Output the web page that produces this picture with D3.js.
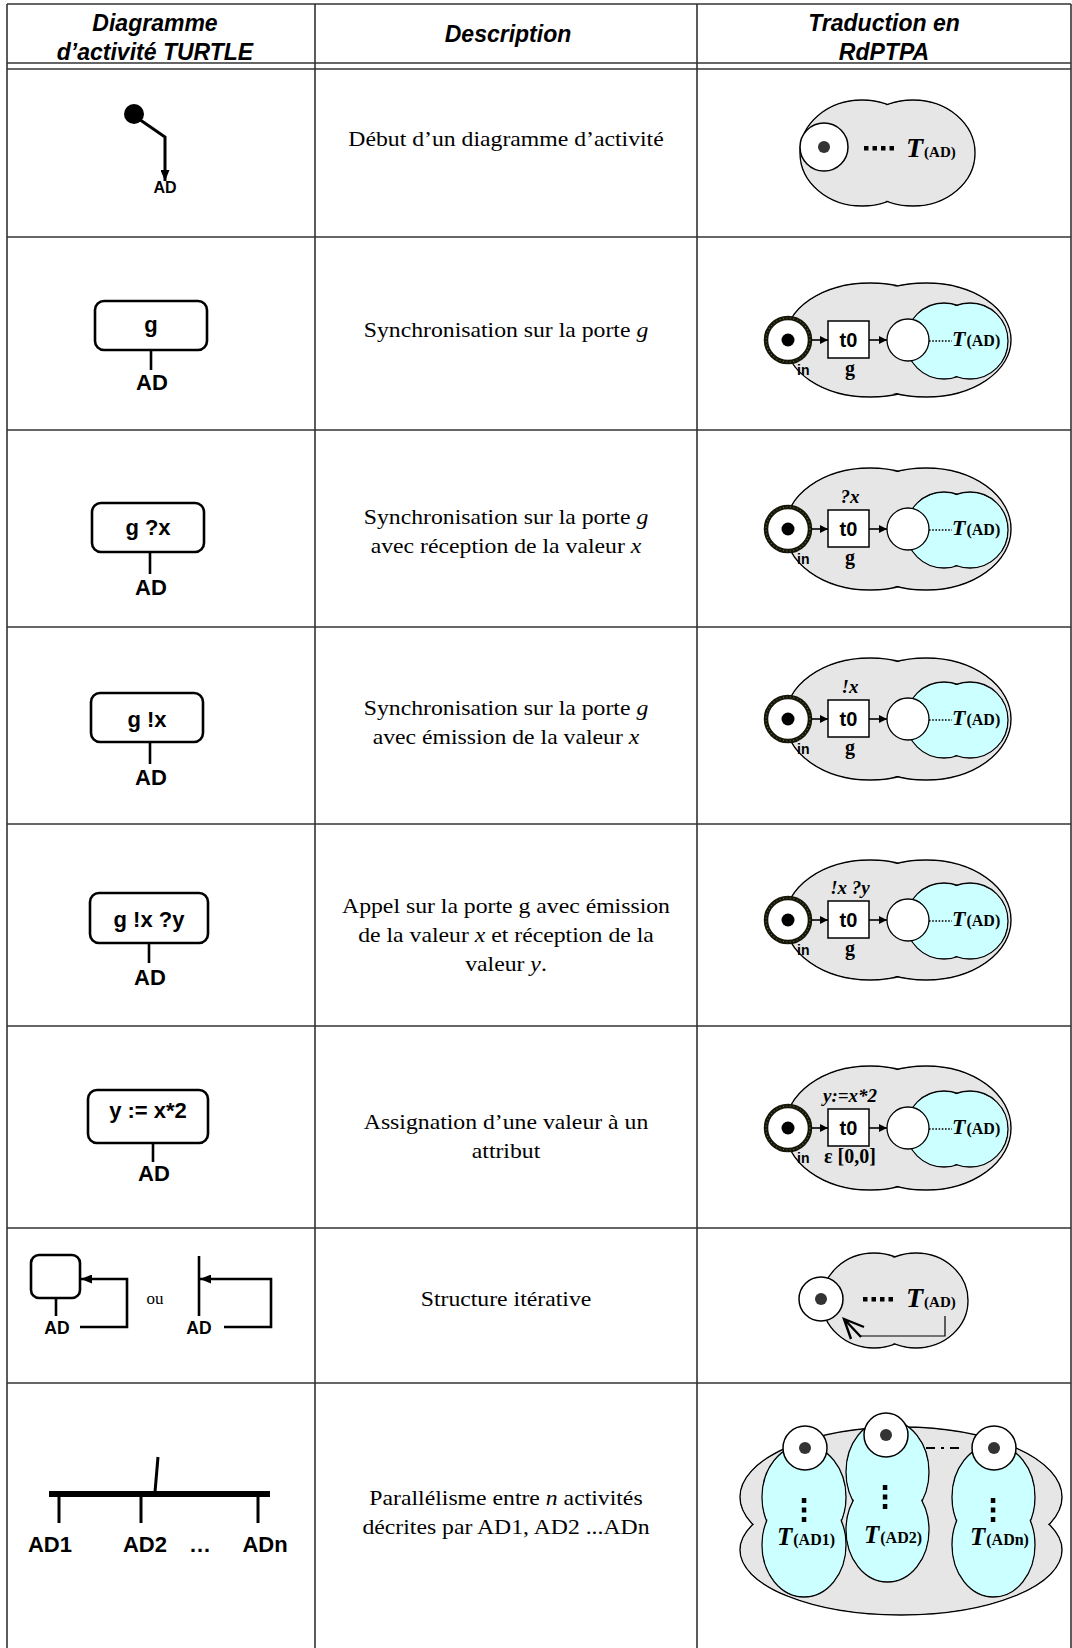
<!DOCTYPE html>
<html><head><meta charset="utf-8">
<script src="https://cdn.jsdelivr.net/npm/d3@7"></script>
<style>body{margin:0;background:#fff}svg{display:block}</style>
</head><body>
<script>
// ---------- data (texts) ----------
const headers = [["Diagramme","d’activité TURTLE"],["Description"],["Traduction en","RdPTPA"]];
const descriptions = [
  ["Début d’un diagramme d’activité"],
  ["Synchronisation sur la porte *g*"],
  ["Synchronisation sur la porte *g*","avec réception de la valeur *x*"],
  ["Synchronisation sur la porte *g*","avec émission de la valeur *x*"],
  ["Appel sur la porte g avec émission","de la valeur *x* et réception de la","valeur *y*."],
  ["Assignation d’une valeur à un","attribut"],
  ["Structure itérative"],
  ["Parallélisme entre *n* activités","décrites par AD1, AD2 ...ADn"]
];
const boxLabels = ["g","g ?x","g !x","g !x ?y","y := x*2"];
const offerLabels = ["","?x","!x","!x ?y","y:=x*2"];
const gateLabels = ["g","g","g","g","ε [0,0]"];
const transitionName = "t0";
const placeName = "in";
const subName = "AD";
const parallelLabels = ["AD1","AD2","ADn"];
const parallelSubs = ["(AD1)","(AD2)","(ADn)"];
const orWord = "ou";

// ---------- layout ----------
const W=1072,H=1648;
const colX=[7,315,697,1071];
const hLines=[4,63,69,237,430,627,824,1026,1228,1383];
const descFirstBaseline=[146,337,524,715,913,1129,1306,1505];
const lineH=29;
const GRAY="#e6e6e6", CYAN="#ccffff", SANS="'Liberation Sans',Arial,sans-serif", SERIF="'Liberation Serif','Times New Roman',serif";

const svg=d3.select("body").append("svg").attr("width",W).attr("height",H);
const defs=svg.append("defs");
function marker(id,len,hw){
  defs.append("marker").attr("id",id).attr("markerUnits","userSpaceOnUse")
    .attr("viewBox",`0 ${-hw} ${len} ${2*hw}`).attr("refX",len).attr("refY",0)
    .attr("markerWidth",len).attr("markerHeight",2*hw).attr("orient","auto")
    .append("path").attr("d",`M0,${-hw}L${len},0L0,${hw}Z`).attr("fill","#000");
}
marker("arBig",11,4.5);
marker("arSmall",8,4);

// ---------- grid ----------
const grid=svg.append("g").attr("stroke","#333").attr("stroke-width",1.6);
grid.selectAll("line.h").data(hLines).join("line").attr("class","h")
  .attr("x1",colX[0]).attr("x2",colX[3]).attr("y1",d=>d).attr("y2",d=>d);
grid.selectAll("line.v").data(colX).join("line").attr("class","v")
  .attr("x1",d=>d).attr("x2",d=>d).attr("y1",hLines[0]).attr("y2",H);

// ---------- headers ----------
const hx=[155,508,884], hy=[[31,60],[42],[31,60]];
headers.forEach((lines,i)=>{
  lines.forEach((t,j)=>{
    svg.append("text").attr("x",hx[i]).attr("y",hy[i][j]).attr("text-anchor","middle")
      .attr("font-family",SANS).attr("font-weight","bold").attr("font-style","italic")
      .attr("font-size",23).text(t);
  });
});

// ---------- descriptions ----------
const descG=svg.append("g").attr("transform","translate(506,0) scale(1.13,1)");
descriptions.forEach((lines,i)=>{
  lines.forEach((ln,j)=>{
    const t=descG.append("text").attr("x",0).attr("y",descFirstBaseline[i]+j*lineH)
      .attr("text-anchor","middle").attr("font-family",SERIF).attr("font-size",21);
    ln.split("*").forEach((seg,k)=>{
      if(seg==="") return;
      t.append("tspan").attr("font-style",k%2?"italic":"normal").text(seg);
    });
  });
});

// ---------- helpers ----------
function blob(g,ells,fill,sw){
  ells.forEach(e=>g.append("ellipse").attr("cx",e[0]).attr("cy",e[1]).attr("rx",e[2]).attr("ry",e[3])
    .attr("fill",fill).attr("stroke","#000").attr("stroke-width",sw||1.4));
  ells.forEach(e=>g.append("ellipse").attr("cx",e[0]).attr("cy",e[1]).attr("rx",e[2]-0.9).attr("ry",e[3]-0.9)
    .attr("fill",fill));
}
function token(g,cx,cy,r,thick){
  const c=g.append("circle").attr("cx",cx).attr("cy",cy).attr("r",r).attr("fill","#fff");
  if(thick){
    c.attr("stroke","#15150a").attr("stroke-width",4.5);
    g.append("circle").attr("cx",cx).attr("cy",cy).attr("r",r).attr("fill","none")
      .attr("stroke","#6a6a30").attr("stroke-width",1.2).attr("stroke-dasharray","1,2.5");
    g.append("circle").attr("cx",cx).attr("cy",cy).attr("r",6.5).attr("fill","#000");
  } else {
    c.attr("stroke","#000").attr("stroke-width",1.5);
    g.append("circle").attr("cx",cx).attr("cy",cy).attr("r",6).attr("fill","#333");
  }
}
function tSym(g,x,y,fs,sub,subfs){
  const t=g.append("text").attr("x",x).attr("y",y).attr("font-family",SERIF).attr("font-weight","bold");
  t.append("tspan").attr("font-style","italic").attr("font-size",fs).text("T");
  t.append("tspan").attr("font-size",subfs).attr("dx",1).text(sub);
}
function hdots(g,x0,y,n){
  for(let k=0;k<n;k++) g.append("rect").attr("x",x0+k*8.5).attr("y",y-2).attr("width",4.5).attr("height",4.5).attr("fill","#000");
}
function vdots(g,x,y0){
  for(let k=0;k<3;k++) g.append("rect").attr("x",x-2.2).attr("y",y0+k*9.5).attr("width",4.5).attr("height",5).attr("fill","#000");
}

// ---------- left column ----------
const L=svg.append("g");
// row 1 : start node
L.append("circle").attr("cx",134).attr("cy",114).attr("r",10).attr("fill","#000");
L.append("path").attr("d","M136,117L165,137L165,181").attr("fill","none").attr("stroke","#000")
  .attr("stroke-width",3).attr("marker-end","url(#arBig)");
L.append("text").attr("x",165).attr("y",193).attr("text-anchor","middle").attr("font-family",SANS)
  .attr("font-weight","bold").attr("font-size",16).text(subName);

// rows 2-6 : action boxes
const boxGeom=[[95,301,207,350,151,370,390],[92,503,204,552,150,574,595],[91,693,203,742,150,764,785],
  [90,893,208,943,149,963,985],[88,1090,208,1143,153,1162,1181]];
const boxTextBase=[332,535,727,927,1118];
boxLabels.forEach((lab,i)=>{
  const b=boxGeom[i];
  L.append("rect").attr("x",b[0]).attr("y",b[1]).attr("width",b[2]-b[0]).attr("height",b[3]-b[1])
    .attr("rx",9).attr("fill","#fff").attr("stroke","#000").attr("stroke-width",2.6);
  L.append("text").attr("x",(b[0]+b[2])/2).attr("y",boxTextBase[i]).attr("text-anchor","middle")
    .attr("font-family",SANS).attr("font-weight","bold").attr("font-size",22).text(lab);
  L.append("line").attr("x1",b[4]).attr("x2",b[4]).attr("y1",b[3]).attr("y2",b[5]).attr("stroke","#000").attr("stroke-width",2.6);
  L.append("text").attr("x",b[4]+1).attr("y",b[6]).attr("text-anchor","middle")
    .attr("font-family",SANS).attr("font-weight","bold").attr("font-size",22).text(subName);
});

// row 7 : loops
L.append("rect").attr("x",31).attr("y",1255).attr("width",49).attr("height",43).attr("rx",8)
  .attr("fill","#fff").attr("stroke","#000").attr("stroke-width",2.6);
L.append("line").attr("x1",56).attr("x2",56).attr("y1",1298).attr("y2",1316).attr("stroke","#000").attr("stroke-width",2.6);
L.append("path").attr("d","M80,1327L127,1327L127,1279L81,1279").attr("fill","none").attr("stroke","#000")
  .attr("stroke-width",2.6).attr("marker-end","url(#arBig)");
L.append("text").attr("x",57).attr("y",1334).attr("text-anchor","middle").attr("font-family",SANS)
  .attr("font-weight","bold").attr("font-size",17.5).text(subName);
L.append("text").attr("x",155).attr("y",1304).attr("text-anchor","middle").attr("font-family",SERIF)
  .attr("font-size",17).text(orWord);
L.append("line").attr("x1",199).attr("x2",199).attr("y1",1256).attr("y2",1316).attr("stroke","#000").attr("stroke-width",2.6);
L.append("path").attr("d","M224,1327L271,1327L271,1279L200,1279").attr("fill","none").attr("stroke","#000")
  .attr("stroke-width",2.6).attr("marker-end","url(#arBig)");
L.append("text").attr("x",199).attr("y",1334).attr("text-anchor","middle").attr("font-family",SANS)
  .attr("font-weight","bold").attr("font-size",17.5).text(subName);

// row 8 : parallel
L.append("rect").attr("x",49).attr("y",1491).attr("width",221).attr("height",6).attr("fill","#000");
L.append("line").attr("x1",158).attr("y1",1457).attr("x2",155).attr("y2",1492).attr("stroke","#000").attr("stroke-width",3);
const parX=[59,141,258], parLabX=[50,145,265];
parallelLabels.forEach((lab,i)=>{
  L.append("line").attr("x1",parX[i]).attr("x2",parX[i]).attr("y1",1497).attr("y2",1523).attr("stroke","#000").attr("stroke-width",3);
  L.append("text").attr("x",parLabX[i]).attr("y",1552).attr("text-anchor","middle").attr("font-family",SANS)
    .attr("font-weight","bold").attr("font-size",22).text(lab);
});
L.append("text").attr("x",200).attr("y",1552).attr("text-anchor","middle").attr("font-family",SANS)
  .attr("font-weight","bold").attr("font-size",22).text("…");

// ---------- right column ----------
const R=svg.append("g");
// row 1
blob(R,[[862,153,62,53],[913,153,62,53]],GRAY);
token(R,824,147,24,false);
hdots(R,864,148,4);
tSym(R,906,157,28,"(AD)",15);

// rows 2-6
const transCY=[340,529,719,920,1128];
const outerRY=[57,61,61,60,62];
transCY.forEach((cy,i)=>{
  const g=R.append("g");
  blob(g,[[870,cy,85,outerRY[i]],[926,cy,85,outerRY[i]]],GRAY);
  blob(g,[[944,cy+1,38,38],[970,cy+1,38,38]],CYAN,1.3);
  g.append("circle").attr("cx",908).attr("cy",cy).attr("r",21).attr("fill","#fff").attr("stroke","#000").attr("stroke-width",1.3);
  g.append("line").attr("x1",929).attr("x2",952).attr("y1",cy+1).attr("y2",cy+1).attr("stroke","#000")
    .attr("stroke-width",1.6).attr("stroke-dasharray","1.6,1.6");
  tSym(g,952,cy+6,22,"(AD)",16);
  token(g,788,cy,22,true);
  g.append("line").attr("x1",811).attr("x2",828).attr("y1",cy).attr("y2",cy).attr("stroke","#000")
    .attr("stroke-width",1.6).attr("marker-end","url(#arSmall)");
  g.append("rect").attr("x",828).attr("y",cy-19).attr("width",41).attr("height",37).attr("fill","#fff")
    .attr("stroke","#000").attr("stroke-width",1.5);
  g.append("text").attr("x",848.5).attr("y",cy+7).attr("text-anchor","middle").attr("font-family",SANS)
    .attr("font-weight","bold").attr("font-size",20).text(transitionName);
  g.append("line").attr("x1",869).attr("x2",887).attr("y1",cy).attr("y2",cy).attr("stroke","#000")
    .attr("stroke-width",1.6).attr("marker-end","url(#arSmall)");
  g.append("text").attr("x",797).attr("y",cy+35).attr("font-family",SANS).attr("font-weight","bold")
    .attr("font-size",14).text(placeName);
  g.append("text").attr("x",850).attr("y",cy+35).attr("text-anchor","middle").attr("font-family",SERIF)
    .attr("font-weight","bold").attr("font-size",20).text(gateLabels[i]);
  if(offerLabels[i]) g.append("text").attr("x",850).attr("y",cy-26).attr("text-anchor","middle")
    .attr("font-family",SERIF).attr("font-weight","bold").attr("font-style","italic").attr("font-size",19).text(offerLabels[i]);
});

// row 7
blob(R,[[874,1300.5,52,47.5],[916,1300.5,52,47.5]],GRAY);
token(R,821,1299,22,false);
hdots(R,863,1299,4);
tSym(R,906,1307,28,"(AD)",15);
R.append("path").attr("d","M945,1316L945,1336L861,1336").attr("fill","none").attr("stroke","#000").attr("stroke-width",1.2);
R.append("path").attr("d","M861,1337L844,1319M864,1327L844,1319L851,1339").attr("fill","none").attr("stroke","#000").attr("stroke-width",2.4);

// row 8
blob(R,[[901,1497,161,70],[901,1550,161,65]],GRAY);
const cyanX=[804,887.5,993.5], cyanY=[[1497,1545],[1472,1530],[1497,1545]], cyanRX=[42,41.5,41.5];
const topTok=[[805,1448],[886,1435],[994,1448]];
const dotsY=[1498,1485,1498], subX=[777,864,970], subBase=[1545,1543,1545];
parallelSubs.forEach((s,i)=>{
  blob(R,[[cyanX[i],cyanY[i][0],cyanRX[i],52],[cyanX[i],cyanY[i][1],cyanRX[i],52]],CYAN,1.3);
});
parallelSubs.forEach((s,i)=>{
  token(R,topTok[i][0],topTok[i][1],22,false);
  vdots(R,topTok[i][0]-1,dotsY[i]);
  tSym(R,subX[i],subBase[i],25,s,16);
});
R.append("line").attr("x1",926).attr("x2",961).attr("y1",1448).attr("y2",1448).attr("stroke","#000")
  .attr("stroke-width",2).attr("stroke-dasharray","9,6,3,6");
</script>
</body></html>
